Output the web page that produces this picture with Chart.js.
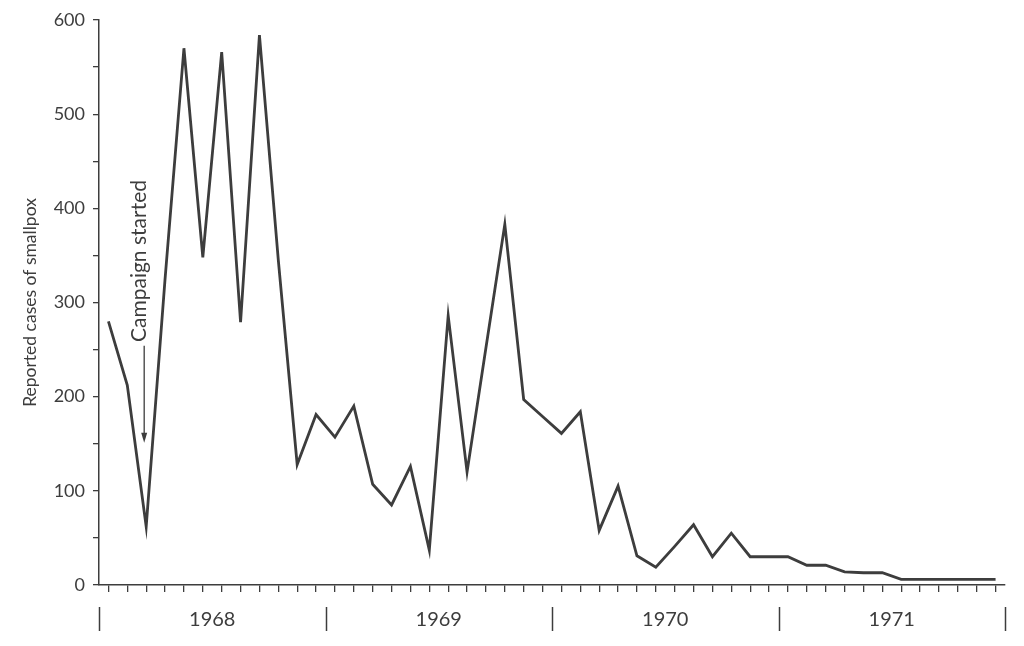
<!DOCTYPE html>
<html>
<head>
<meta charset="utf-8">
<script src="https://cdn.jsdelivr.net/npm/chart.js@4"></script>
<style>
  body { margin: 0; background: #fff; }
</style>
</head>
<body>
<canvas id="smallpoxChart" width="1024" height="646"></canvas>
<script>
// Dados: casos mensais notificados, jan 1968 - dez 1971
var years = ['1968', '1969', '1970', '1971']
var monthNames = ['Jan', 'Feb', 'Mar', 'Apr', 'May', 'Jun', 'Jul', 'Aug', 'Sep', 'Oct', 'Nov', 'Dec']
var months = []
years.forEach((y) => {
  monthNames.forEach((m) => months.push(m + ' ' + y))
})

var cases = [
  280, 212, 62, 325, 570, 348, 566, 279, 584, 345, 128, 181,
  157, 190, 107, 85, 126, 37, 286, 120, 252, 383, 197, 179,
  161, 184, 58, 105, 31, 19, 41, 64, 30, 55, 30, 30,
  30, 21, 21, 14, 13, 13, 6, 6, 6, 6, 6, 6
]

var yTicks = [0, 100, 200, 300, 400, 500, 600]

var annotationText = 'Campaign started'
var annotationIndex = 2

var ink = '#3d3d3d'
var fontFamily = 'Lato, "Open Sans", sans-serif'

// Anos e separadores por baixo do eixo
var yearsPlugin = {
  id: 'years',
  afterDraw: function(chart) {
    var ctx = chart.ctx
    var x = chart.scales.x
    ctx.save()
    ctx.strokeStyle = ink
    ctx.lineWidth = 1.5
    for (var j = 0; j <= years.length; j++) {
      var px = Math.round(x.getPixelForValue(j * 12 - 0.5)) + 0.5
      ctx.beginPath()
      ctx.moveTo(px, 607)
      ctx.lineTo(px, 631)
      ctx.stroke()
    }
    ctx.fillStyle = ink
    ctx.font = '20px ' + fontFamily
    ctx.textAlign = 'center'
    ctx.textBaseline = 'middle'
    years.forEach((y, j) => {
      ctx.fillText(y, x.getPixelForValue(j * 12 + 5.5), 620)
    })
    ctx.restore()
  }
}

// Anotação "Campaign started" com seta
var campaignPlugin = {
  id: 'campaign',
  afterDraw: function(chart) {
    var ctx = chart.ctx
    var px = chart.scales.x.getPixelForValue(annotationIndex) - 1
    var yScale = chart.scales.y
    var textStart = yScale.getPixelForValue(258)
    var arrowTop = yScale.getPixelForValue(254)
    var arrowTip = yScale.getPixelForValue(151)
    ctx.save()
    ctx.fillStyle = ink
    ctx.strokeStyle = ink
    ctx.font = '21px ' + fontFamily
    ctx.translate(px + 1, textStart)
    ctx.rotate(-Math.PI / 2)
    ctx.textAlign = 'left'
    ctx.textBaseline = 'alphabetic'
    ctx.fillText(annotationText, 0, 0)
    ctx.restore()

    ctx.save()
    ctx.strokeStyle = ink
    ctx.fillStyle = ink
    ctx.lineWidth = 1.3
    ctx.beginPath()
    ctx.moveTo(px - 1, arrowTop)
    ctx.lineTo(px - 1, arrowTip - 6)
    ctx.stroke()
    ctx.beginPath()
    ctx.moveTo(px - 4, arrowTip - 10)
    ctx.lineTo(px + 2, arrowTip - 10)
    ctx.lineTo(px - 1, arrowTip)
    ctx.closePath()
    ctx.fill()
    ctx.restore()
  }
}

var smallpoxChart = new Chart(document.getElementById('smallpoxChart'), {
  type: 'line',
  data: {
    labels: months,
    datasets: [
      {
        label: 'Reported cases of smallpox',
        data: cases,
        borderColor: ink,
        borderWidth: 2.8,
        pointRadius: 0,
        tension: 0,
        fill: false
      }
    ]
  },
  options: {
    responsive: false,
    animation: false,
    layout: {
      padding: { top: 20, right: 19, left: 0, bottom: 0 }
    },
    plugins: {
      legend: { display: false },
      tooltip: { enabled: false }
    },
    scales: {
      x: {
        type: 'category',
        offset: true,
        grid: {
          offset: false,
          drawOnChartArea: false,
          tickLength: 7,
          color: ink,
          lineWidth: 1.3
        },
        border: { color: ink, width: 1.5 },
        ticks: { display: false },
        afterFit: function(scale) { scale.height = 61 }
      },
      y: {
        min: 0,
        max: 600,
        grid: {
          drawOnChartArea: false,
          tickLength: 6,
          color: ink,
          lineWidth: 1.3
        },
        border: { color: ink, width: 1.5 },
        ticks: {
          stepSize: 50,
          padding: 8,
          color: ink,
          font: { family: fontFamily, size: 18 },
          callback: function(value) {
            return yTicks.indexOf(value) > -1 ? value : ''
          }
        },
        title: {
          display: true,
          text: 'Reported cases of smallpox',
          color: ink,
          font: { family: fontFamily, size: 17.5 },
          padding: { top: 20, bottom: 0 }
        },
        afterFit: function(scale) { scale.width = 99 }
      }
    }
  },
  plugins: [yearsPlugin, campaignPlugin]
});
</script>
</body>
</html>
